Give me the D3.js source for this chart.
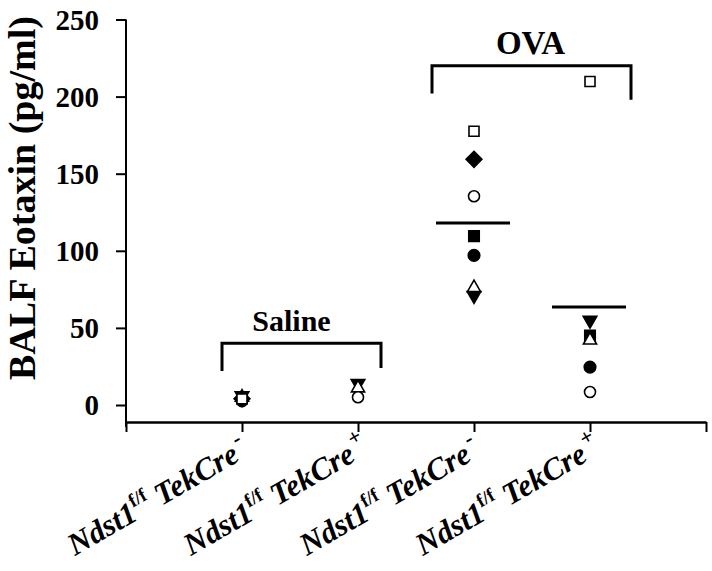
<!DOCTYPE html>
<html><head><meta charset="utf-8">
<script src="https://cdn.jsdelivr.net/npm/d3@7"></script>
<style>body{margin:0;background:#fff;} svg{display:block;}</style>
</head><body>
<script>
// ---- data ----
const categories = ["Ndst1 f/f TekCre-", "Ndst1 f/f TekCre+", "Ndst1 f/f TekCre-", "Ndst1 f/f TekCre+"];
const creSign = ["-", "+", "-", "+"];
const yTicks = [0, 50, 100, 150, 200, 250];
const downTriangle  = [6, 14, 71, 55];
const filledSquare  = [5, null, 109.5, 45];
const openTriangle  = [5, 11, 76, 42];
const filledCircle  = [4, null, 97, 24.6];
const openCircle    = [2.5, 5, 135.4, 8.4];
const filledDiamond = [4, null, 159.3, null];
const openSquare    = [4, null, 177.5, 209.8];
const meanValues    = [null, null, 118, 63.5];
const bracketLabels = ["Saline", "OVA"];
const bracketGroups = [[0, 1], [2, 3]];
const bracketValues = [40, 220];
const bracketLegEnds = [[22, 24], [202, 198]];

const W = 712, H = 571;
const FONT = '"Liberation Serif"';
const svg = d3.select("body").append("svg").attr("width", W).attr("height", H);
const x = d3.scaleLinear().domain([0, 5]).range([126, 706]);
const y = d3.scaleLinear().domain([0, 250]).range([405, 19.5]);

// y axis
const yAxis = svg.append("g").attr("transform", "translate(126,0)")
  .call(d3.axisLeft(y).tickValues(yTicks).tickSize(10).tickSizeOuter(0).tickPadding(17));
yAxis.select(".domain").remove();
svg.append("line").attr("x1", 126).attr("x2", 126).attr("y1", y(250)).attr("y2", 427)
  .attr("stroke", "#000").attr("stroke-width", 2);
yAxis.selectAll(".tick line").attr("stroke-width", 2);
yAxis.selectAll("text").style("font-family", FONT).style("font-weight", "bold")
  .style("font-size", "29px").attr("fill", "#000").attr("dy", "0.34em");

// x axis
const xAxis = svg.append("g").attr("transform", "translate(0,422)")
  .call(d3.axisBottom(x).tickValues([0, 1, 2, 3, 4, 5]).tickSize(10).tickSizeOuter(0).tickFormat(""));
xAxis.select(".domain").attr("stroke-width", 2.5);
xAxis.selectAll(".tick line").attr("stroke-width", 2);

// x labels
categories.forEach((c, i) => {
  const t = svg.append("text")
    .attr("transform", `translate(${x(i + 1) - 167},556) rotate(-30)`)
    .attr("text-anchor", "start")
    .style("font-family", FONT).style("font-weight", "bold")
    .style("font-size", "31px").style("font-style", "italic");
  t.append("tspan").text("Ndst1");
  t.append("tspan").style("font-size", "19px").style("font-style", "normal").attr("dy", -13).text("f/f");
  t.append("tspan").attr("dy", 13).text(" TekCre");
  t.append("tspan").style("font-size", "22px").style("font-style", "normal")
    .attr("dx", 3).attr("dy", -14).text(creSign[i]);
});

// y label
svg.append("text").attr("transform", "translate(35,198) rotate(-90)")
  .attr("text-anchor", "middle")
  .style("font-family", FONT).style("font-weight", "bold").style("font-size", "38px")
  .text("BALF Eotaxin (pg/ml)");

// markers
const series = [
  {v: downTriangle, type: d3.symbolTriangle, size: 80, fill: "#000", rot: 180},
  {v: filledSquare, type: d3.symbolSquare, size: 110, fill: "#000", rot: 0},
  {v: openTriangle, type: d3.symbolTriangle, size: 75, fill: "#fff", rot: 0},
  {v: filledCircle, type: d3.symbolCircle, size: 105, fill: "#000", rot: 0},
  {v: openCircle, type: d3.symbolCircle, size: 95, fill: "#fff", rot: 0},
  {v: filledDiamond, type: d3.symbolSquare, size: 125, fill: "#000", rot: 45},
  {v: openSquare, type: d3.symbolSquare, size: 100, fill: "#fff", rot: 0}
];
series.forEach(s => {
  svg.append("g").selectAll("path").data(s.v.map((v, i) => ({v, i})).filter(d => d.v != null))
    .join("path")
    .attr("d", d3.symbol().type(s.type).size(s.size))
    .attr("transform", d => `translate(${x(d.i + 1)},${y(d.v)}) rotate(${s.rot})`)
    .attr("fill", s.fill).attr("stroke", "#000").attr("stroke-width", 1.6);
});

// mean lines
svg.append("g").selectAll("line").data(meanValues.map((v, i) => ({v, i})).filter(d => d.v != null))
  .join("line")
  .attr("x1", d => x(d.i + 1) - 38).attr("x2", d => x(d.i + 1) + 36)
  .attr("y1", d => y(d.v)).attr("y2", d => y(d.v))
  .attr("stroke", "#000").attr("stroke-width", 3);

// brackets
bracketLabels.forEach((lab, k) => {
  const [a, b] = bracketGroups[k];
  const pad = k === 0 ? [20, 23] : [42, 41];
  const x1 = x(a + 1) - pad[0], x2 = x(b + 1) + pad[1], yy = y(bracketValues[k]);
  svg.append("path")
    .attr("d", `M${x1},${y(bracketLegEnds[k][0])}V${yy}H${x2}V${y(bracketLegEnds[k][1])}`)
    .attr("fill", "none").attr("stroke", "#000").attr("stroke-width", 3);
  svg.append("text").attr("x", (x1 + x2) / 2 + (k === 0 ? -10 : -1)).attr("y", yy - 12)
    .attr("text-anchor", "middle")
    .style("font-family", FONT).style("font-weight", "bold")
    .style("font-size", k === 0 ? "30px" : "33px").text(lab);
});
</script>
</body></html>
